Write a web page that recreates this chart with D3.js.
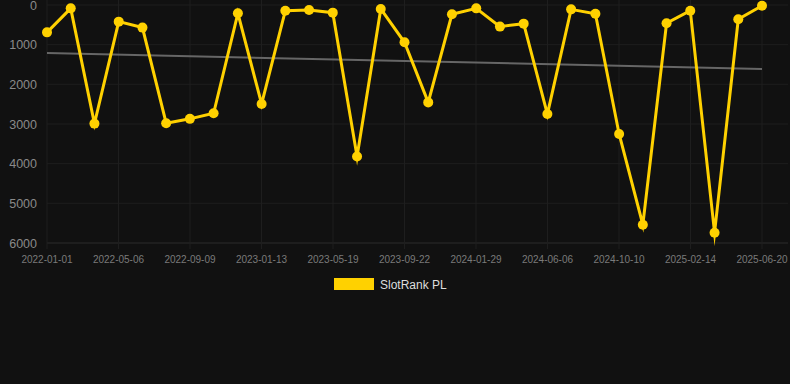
<!DOCTYPE html>
<html><head><meta charset="utf-8">
<script src="https://cdn.jsdelivr.net/npm/d3@7"></script>
<style>
html,body{margin:0;padding:0;background:#111111;}
svg{display:block;font-family:"Liberation Sans",Arial,Helvetica,sans-serif;}
</style></head>
<body>
<svg id="c" width="790" height="384"></svg>
<script>
const dates = ["2022-01-01","2022-02-12","2022-03-26","2022-05-08","2022-06-19","2022-07-31","2022-09-11","2022-10-23","2022-12-05","2023-01-16","2023-02-27","2023-04-10","2023-05-22","2023-07-04","2023-08-15","2023-09-26","2023-11-07","2023-12-19","2024-01-31","2024-03-13","2024-04-24","2024-06-05","2024-07-17","2024-08-29","2024-10-10","2024-11-21","2025-01-02","2025-02-13","2025-03-28","2025-05-09","2025-06-20"];
const rankValues = [690,85,2990,420,570,2980,2870,2730,210,2495,143,125,193,3820,100,940,2455,235,85,545,470,2750,110,220,3250,5540,460,143,5740,360,18];
const xTickLabels = ["2022-01-01","2022-05-06","2022-09-09","2023-01-13","2023-05-19","2023-09-22","2024-01-29","2024-06-06","2024-10-10","2025-02-14","2025-06-20"];
const yTickValues = [0,1000,2000,3000,4000,5000,6000];
const seriesName = "SlotRank PL";

(function(){
const parse = d3.utcParse("%Y-%m-%d");
const data = dates.map((d,i)=>({t:parse(d), v:rankValues[i]}));
const svg = d3.select("#c");
const L=47, R=762, T=5, B=243;

const x = d3.scaleUtc().domain([parse(dates[0]), parse(dates[dates.length-1])]).range([L,R]);
const y = d3.scaleLinear().domain([0,6000]).range([T,B]);

const g = svg.append("g");
g.selectAll("line.h").data(yTickValues).join("line")
  .attr("x1",L).attr("x2",788).attr("y1",d=>y(d)).attr("y2",d=>y(d))
  .attr("stroke", d=> d===6000 ? "#2c2c2c" : "#1e1e1e").attr("stroke-width",1);
const dom = x.domain();
const tickDates = xTickLabels.map((l,i)=> new Date(+dom[0] + (dom[1]-dom[0])*i/(xTickLabels.length-1)));
g.selectAll("line.v").data(tickDates).join("line")
  .attr("x1",d=>x(d)).attr("x2",d=>x(d)).attr("y1",0).attr("y2",B+6)
  .attr("stroke","#1e1e1e").attr("stroke-width",1);

svg.append("g").selectAll("text").data(yTickValues).join("text")
  .attr("x",37).attr("y",d=>y(d)+4.5).attr("text-anchor","end")
  .attr("fill","#8a8a8a").attr("font-size","12.5px").text(d=>d);
svg.append("g").selectAll("text").data(tickDates).join("text")
  .attr("x",d=>x(d)).attr("y",263).attr("text-anchor","middle")
  .attr("fill","#7a7a7a").attr("font-size","10px").text((d,i)=>xTickLabels[i]);

const xs = data.map(d=>+d.t), ys = data.map(d=>d.v);
const mx = d3.mean(xs), my = d3.mean(ys);
const slope = d3.sum(xs.map((xi,i)=>(xi-mx)*(ys[i]-my)))/d3.sum(xs.map(xi=>(xi-mx)**2));
const icp = my - slope*mx;
svg.append("line")
  .attr("x1",x(dom[0])).attr("y1",y(icp+slope*+dom[0]))
  .attr("x2",x(dom[1])).attr("y2",y(icp+slope*+dom[1]))
  .attr("stroke","#666").attr("stroke-width",2);

const line = d3.line().x(d=>x(d.t)).y(d=>y(d.v));
svg.append("path").datum(data).attr("d",line)
  .attr("fill","none").attr("stroke","#FFD100").attr("stroke-width",3)
  .attr("stroke-linejoin","miter").attr("stroke-miterlimit",10);
svg.append("g").selectAll("circle").data(data).join("circle")
  .attr("cx",d=>x(d.t)).attr("cy",d=>y(d.v)).attr("r",5).attr("fill","#FFD100");

svg.append("rect").attr("x",334).attr("y",278).attr("width",40).attr("height",12).attr("fill","#FFD100");
svg.append("text").attr("x",380).attr("y",288.5).attr("fill","#dddddd").attr("font-size","12px").text(seriesName);
})();
</script>
</body></html>
